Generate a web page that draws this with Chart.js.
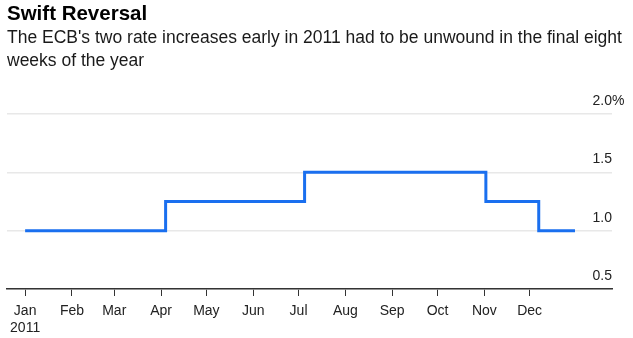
<!DOCTYPE html>
<html>
<head>
<meta charset="utf-8">
<script src="https://cdn.jsdelivr.net/npm/chart.js@4"></script>
<style>
    html, body { margin: 0; padding: 0; background: #fff; }
    #wrap { position: relative; width: 633px; height: 338px; overflow: hidden; }
    #chart { position: absolute; left: 0; top: 0; }
    .title { position: absolute; left: 7px; top: 2px; font: bold 20.5px "Liberation Sans", Arial, sans-serif; line-height: 22px; color: #000; white-space: nowrap; }
    .subtitle { position: absolute; left: 7px; top: 26px; width: 626px; font: 17.5px "Liberation Sans", Arial, sans-serif; line-height: 23px; color: #1a1a1a; white-space: nowrap; }
</style>
</head>
<body>
<div id="wrap">
    <canvas id="chart" width="633" height="338"></canvas>
    <div class="title">Swift Reversal</div>
    <div class="subtitle">The ECB's two rate increases early in 2011 had to be unwound in the final eight<br>weeks of the year</div>
</div>
<script>
// ECB main refinancing rate, 2011 (day of year, rate in %)
var rateDays = [0, 93, 185, 305, 340, 364];
var rateValues = [1.0, 1.25, 1.5, 1.25, 1.0, 1.0];

// month starts (day of year) and their labels
var monthDays = [0, 31, 59, 90, 120, 151, 181, 212, 243, 273, 304, 334];
var monthLabels = ['Jan', 'Feb', 'Mar', 'Apr', 'May', 'Jun', 'Jul', 'Aug', 'Sep', 'Oct', 'Nov', 'Dec'];
var yearLabel = '2011';

var yTicks = [0.5, 1.0, 1.5, 2.0];

var points = rateDays.map(function (d, i) {
    return { x: d, y: rateValues[i] };
});

var fontFamily = '"Liberation Sans", Arial, sans-serif';

// y labels sit above their gridlines, right aligned, with the % hanging off the top one
var yLabelsPlugin = {
    id: 'yLabels',
    afterDraw: function (chart) {
        var ctx = chart.ctx;
        var y = chart.scales.y;
        var right = chart.chartArea.right;
        ctx.save();
        ctx.font = '14px ' + fontFamily;
        ctx.fillStyle = '#222';
        ctx.textBaseline = 'middle';
        yTicks.forEach(function (v, i) {
            var py = y.getPixelForValue(v) - 13;
            ctx.textAlign = 'right';
            ctx.fillText(v.toFixed(1), right, py);
            if (i === yTicks.length - 1) {
                ctx.textAlign = 'left';
                ctx.fillText('%', right, py);
            }
        });
        ctx.restore();
    }
};

new Chart(document.getElementById('chart'), {
    type: 'line',
    data: {
        datasets: [{
            data: points,
            stepped: 'before',
            borderColor: '#1a6fef',
            borderWidth: 3,
            pointRadius: 0,
            fill: false
        }]
    },
    options: {
        responsive: false,
        animation: false,
        layout: { padding: { left: 7, right: 21, top: 114, bottom: 0 } },
        plugins: {
            legend: { display: false },
            tooltip: { enabled: false }
        },
        scales: {
            x: {
                type: 'linear',
                min: -12,
                max: 388.5,
                afterBuildTicks: function (scale) {
                    scale.ticks = monthDays.map(function (d) { return { value: d }; });
                },
                afterFit: function (scale) { scale.height = 49; },
                ticks: {
                    autoSkip: false,
                    maxRotation: 0,
                    padding: 7,
                    color: '#222',
                    font: { family: fontFamily, size: 14 },
                    callback: function (value) {
                        var i = monthDays.indexOf(value);
                        return i === 0 ? [monthLabels[0], yearLabel] : monthLabels[i];
                    }
                },
                grid: {
                    drawOnChartArea: false,
                    drawTicks: true,
                    tickLength: 7,
                    color: '#333',
                    lineWidth: 1
                },
                border: { display: true, color: '#333', width: 1.5 }
            },
            y: {
                min: 0.5,
                max: 2.0,
                afterBuildTicks: function (scale) {
                    scale.ticks = yTicks.map(function (v) { return { value: v }; });
                },
                afterFit: function (scale) { scale.width = 0; },
                ticks: { display: false },
                grid: { color: '#e8e8e8', lineWidth: 1.5, drawTicks: false },
                border: { display: false }
            }
        }
    },
    plugins: [yLabelsPlugin]
});
</script>
</body>
</html>
